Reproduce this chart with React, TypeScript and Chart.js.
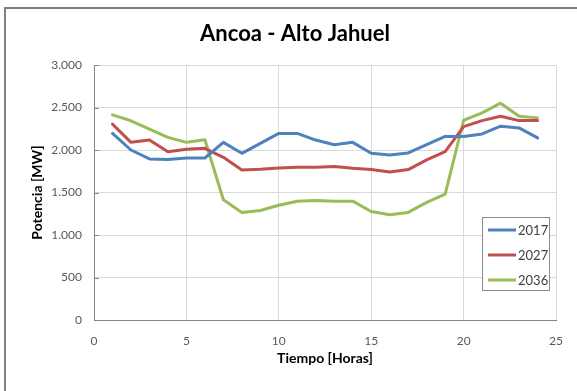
import React, { useEffect, useRef } from "react";
import { Chart, registerables } from "chart.js";

Chart.register(...registerables);

const chartTitle = "Ancoa - Alto Jahuel";
const xAxisTitle = "Tiempo [Horas]";
const yAxisTitle = "Potencia [MW]";
const hours = [1, 2, 3, 4, 5, 6, 7, 8, 9, 10, 11, 12, 13, 14, 15, 16, 17, 18, 19, 20, 21, 22, 23, 24];
const seriesNames = ["2017", "2027", "2036"];
const series2017 = [2195, 2000, 1895, 1887, 1906, 1906, 2090, 1961, 2078, 2195, 2195, 2117, 2062, 2090, 1961, 1941, 1965, 2062, 2160, 2160, 2189, 2280, 2260, 2142];
const series2027 = [2305, 2090, 2117, 1980, 2008, 2020, 1914, 1766, 1773, 1787, 1797, 1797, 1805, 1785, 1770, 1742, 1770, 1883, 1980, 2275, 2346, 2398, 2346, 2346];
const series2036 = [2414, 2344, 2246, 2148, 2090, 2121, 1414, 1266, 1289, 1350, 1398, 1406, 1398, 1398, 1277, 1238, 1266, 1383, 1480, 2350, 2437, 2551, 2398, 2378];
const seriesColors = ["#4F81BD", "#C0504D", "#9BBB59"];

const FONT = "Lato, 'Open Sans', sans-serif";

const titleShift = {
  id: "titleShift",
  afterLayout(chart: any) {
    const tb = chart.titleBlock;
    if (tb) {
      tb.left = tb.left + 20;
    }
  },
};

const innerTicks = {
  id: "innerTicks",
  afterDatasetsDraw(chart: any) {
    const { ctx, scales } = chart;
    const y = scales.y;
    ctx.save();
    ctx.strokeStyle = "#868686";
    ctx.lineWidth = 1;
    y.ticks.forEach((t: any) => {
      const py = Math.round(y.getPixelForValue(t.value)) + 0.5;
      ctx.beginPath();
      ctx.moveTo(y.right, py);
      ctx.lineTo(y.right + 5, py);
      ctx.stroke();
    });
    ctx.restore();
  },
};

const insideLegend = {
  id: "insideLegend",
  afterDraw(chart: any) {
    const { ctx, chartArea } = chart;
    const right = chartArea.right - 6;
    const left = right - 68;
    const bottom = chartArea.bottom - 29;
    const top = bottom - 74;
    ctx.save();
    ctx.fillStyle = "#ffffff";
    ctx.fillRect(left, top, right - left, bottom - top);
    ctx.strokeStyle = "#8a8a8a";
    ctx.lineWidth = 1;
    ctx.strokeRect(left + 0.5, top + 0.5, right - left - 1, bottom - top - 1);
    ctx.font = `13px ${FONT}`;
    ctx.textBaseline = "middle";
    ctx.textAlign = "left";
    chart.data.datasets.forEach((ds: any, i: number) => {
      const y = top + 13 + i * 25;
      ctx.strokeStyle = ds.borderColor;
      ctx.lineWidth = 3;
      ctx.beginPath();
      ctx.moveTo(left + 6, y);
      ctx.lineTo(left + 34, y);
      ctx.stroke();
      ctx.fillStyle = "#404040";
      ctx.fillText(ds.label, left + 36, y + 1);
    });
    ctx.restore();
  },
};

const fmt = (v: number) => String(v).replace(/\B(?=(\d{3})+(?!\d))/g, ".");

export default function App() {
  const ref = useRef<HTMLCanvasElement | null>(null);
  useEffect(() => {
    if (!ref.current) return;
    const all = [series2017, series2027, series2036];
    const chart = new Chart(ref.current, {
      type: "line",
      data: {
        datasets: all.map((s, i) => ({
          label: seriesNames[i],
          data: s.map((v, j) => ({ x: hours[j], y: v })),
          borderColor: seriesColors[i],
          backgroundColor: seriesColors[i],
          borderWidth: 3,
          pointRadius: 0,
          tension: 0,
          borderJoinStyle: "round" as const,
          borderCapStyle: "round" as const,
        })),
      },
      options: {
        responsive: false,
        animation: false,
        layout: { padding: { left: 0, right: 7, top: 0, bottom: 0 } },
        plugins: {
          legend: { display: false },
          tooltip: { enabled: false },
          title: {
            display: true,
            text: chartTitle,
            color: "#000000",
            font: { family: FONT, size: 22, weight: "bold" },
            padding: { top: 21, bottom: 17.6 },
          },
        },
        scales: {
          x: {
            type: "linear",
            min: 0,
            max: 25,
            ticks: { stepSize: 5, color: "#595959", font: { family: FONT, size: 12 }, padding: 14, maxRotation: 0 },
            grid: { color: "#d9d9d9", drawTicks: false },
            border: { color: "#868686", width: 1 },
            title: {
              display: true,
              text: xAxisTitle,
              color: "#000000",
              font: { family: FONT, size: 14, weight: "bold" },
              padding: { top: 0, bottom: 24 },
            },
            afterFit(scale: any) {
              scale.height = 71;
            },
          },
          y: {
            min: 0,
            max: 3000,
            ticks: { stepSize: 500, color: "#595959", font: { family: FONT, size: 12 }, padding: 12, callback: (v: any) => fmt(v) },
            grid: { color: "#d9d9d9", drawTicks: false },
            border: { color: "#868686", width: 1 },
            title: {
              display: true,
              text: yAxisTitle,
              color: "#000000",
              font: { family: FONT, size: 14, weight: "bold" },
              padding: { top: 28.6, bottom: 0 },
            },
            afterFit(scale: any) {
              scale.width = 94;
            },
          },
        },
      },
      plugins: [titleShift, innerTicks, insideLegend],
    });
    return () => chart.destroy();
  }, []);

  return (
    <div style={{ position: "absolute", left: 0, top: 0, width: 577, height: 391, overflow: "hidden", background: "#fff" }}>
      <div
        style={{
          position: "absolute",
          left: 4,
          top: 7,
          width: 573,
          height: 384,
          borderLeft: "2px solid #808080",
          borderTop: "2px solid #808080",
          boxSizing: "border-box",
        }}
      />
      <canvas ref={ref} width={577} height={391} style={{ position: "absolute", left: 0, top: 0, width: 577, height: 391 }} />
    </div>
  );
}
